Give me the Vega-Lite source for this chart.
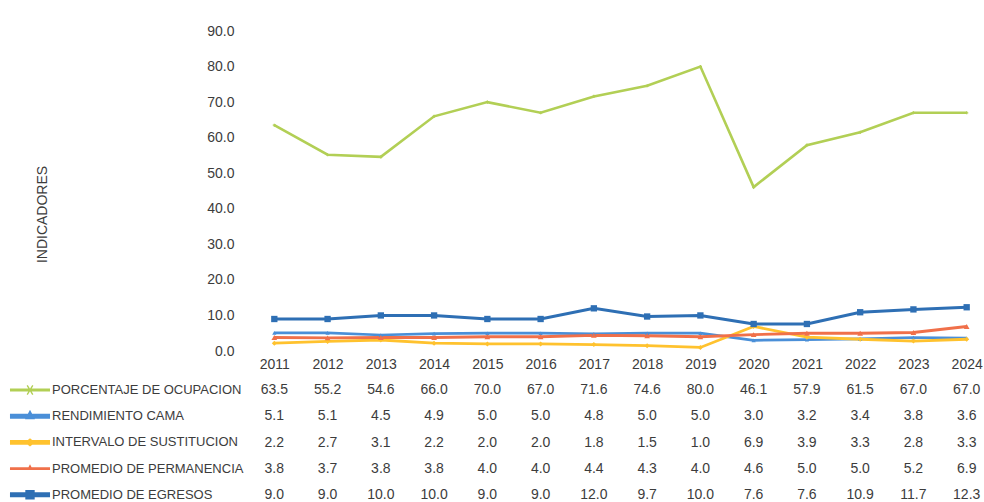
{
  "$schema": "https://vega.github.io/schema/vega-lite/v6.json",
  "background": "white",
  "padding": {"top": 24, "left": 17, "right": 0, "bottom": 0},
  "config": {
    "view": {"stroke": null},
    "font": "Liberation Sans",
    "concat": {"spacing": 6}
  },
  "resolve": {
    "scale": {"shape": "independent", "size": "independent", "strokeWidth": "independent"},
    "legend": {"color": "independent", "shape": "independent"}
  },
  "data": {
    "values": [
      {"anio": "2011", "serie": "PORCENTAJE DE OCUPACION", "valor": 63.5},
      {"anio": "2012", "serie": "PORCENTAJE DE OCUPACION", "valor": 55.2},
      {"anio": "2013", "serie": "PORCENTAJE DE OCUPACION", "valor": 54.6},
      {"anio": "2014", "serie": "PORCENTAJE DE OCUPACION", "valor": 66.0},
      {"anio": "2015", "serie": "PORCENTAJE DE OCUPACION", "valor": 70.0},
      {"anio": "2016", "serie": "PORCENTAJE DE OCUPACION", "valor": 67.0},
      {"anio": "2017", "serie": "PORCENTAJE DE OCUPACION", "valor": 71.6},
      {"anio": "2018", "serie": "PORCENTAJE DE OCUPACION", "valor": 74.6},
      {"anio": "2019", "serie": "PORCENTAJE DE OCUPACION", "valor": 80.0},
      {"anio": "2020", "serie": "PORCENTAJE DE OCUPACION", "valor": 46.1},
      {"anio": "2021", "serie": "PORCENTAJE DE OCUPACION", "valor": 57.9},
      {"anio": "2022", "serie": "PORCENTAJE DE OCUPACION", "valor": 61.5},
      {"anio": "2023", "serie": "PORCENTAJE DE OCUPACION", "valor": 67.0},
      {"anio": "2024", "serie": "PORCENTAJE DE OCUPACION", "valor": 67.0},
      {"anio": "2011", "serie": "RENDIMIENTO CAMA", "valor": 5.1},
      {"anio": "2012", "serie": "RENDIMIENTO CAMA", "valor": 5.1},
      {"anio": "2013", "serie": "RENDIMIENTO CAMA", "valor": 4.5},
      {"anio": "2014", "serie": "RENDIMIENTO CAMA", "valor": 4.9},
      {"anio": "2015", "serie": "RENDIMIENTO CAMA", "valor": 5.0},
      {"anio": "2016", "serie": "RENDIMIENTO CAMA", "valor": 5.0},
      {"anio": "2017", "serie": "RENDIMIENTO CAMA", "valor": 4.8},
      {"anio": "2018", "serie": "RENDIMIENTO CAMA", "valor": 5.0},
      {"anio": "2019", "serie": "RENDIMIENTO CAMA", "valor": 5.0},
      {"anio": "2020", "serie": "RENDIMIENTO CAMA", "valor": 3.0},
      {"anio": "2021", "serie": "RENDIMIENTO CAMA", "valor": 3.2},
      {"anio": "2022", "serie": "RENDIMIENTO CAMA", "valor": 3.4},
      {"anio": "2023", "serie": "RENDIMIENTO CAMA", "valor": 3.8},
      {"anio": "2024", "serie": "RENDIMIENTO CAMA", "valor": 3.6},
      {"anio": "2011", "serie": "INTERVALO DE SUSTITUCION", "valor": 2.2},
      {"anio": "2012", "serie": "INTERVALO DE SUSTITUCION", "valor": 2.7},
      {"anio": "2013", "serie": "INTERVALO DE SUSTITUCION", "valor": 3.1},
      {"anio": "2014", "serie": "INTERVALO DE SUSTITUCION", "valor": 2.2},
      {"anio": "2015", "serie": "INTERVALO DE SUSTITUCION", "valor": 2.0},
      {"anio": "2016", "serie": "INTERVALO DE SUSTITUCION", "valor": 2.0},
      {"anio": "2017", "serie": "INTERVALO DE SUSTITUCION", "valor": 1.8},
      {"anio": "2018", "serie": "INTERVALO DE SUSTITUCION", "valor": 1.5},
      {"anio": "2019", "serie": "INTERVALO DE SUSTITUCION", "valor": 1.0},
      {"anio": "2020", "serie": "INTERVALO DE SUSTITUCION", "valor": 6.9},
      {"anio": "2021", "serie": "INTERVALO DE SUSTITUCION", "valor": 3.9},
      {"anio": "2022", "serie": "INTERVALO DE SUSTITUCION", "valor": 3.3},
      {"anio": "2023", "serie": "INTERVALO DE SUSTITUCION", "valor": 2.8},
      {"anio": "2024", "serie": "INTERVALO DE SUSTITUCION", "valor": 3.3},
      {"anio": "2011", "serie": "PROMEDIO DE PERMANENCIA", "valor": 3.8},
      {"anio": "2012", "serie": "PROMEDIO DE PERMANENCIA", "valor": 3.7},
      {"anio": "2013", "serie": "PROMEDIO DE PERMANENCIA", "valor": 3.8},
      {"anio": "2014", "serie": "PROMEDIO DE PERMANENCIA", "valor": 3.8},
      {"anio": "2015", "serie": "PROMEDIO DE PERMANENCIA", "valor": 4.0},
      {"anio": "2016", "serie": "PROMEDIO DE PERMANENCIA", "valor": 4.0},
      {"anio": "2017", "serie": "PROMEDIO DE PERMANENCIA", "valor": 4.4},
      {"anio": "2018", "serie": "PROMEDIO DE PERMANENCIA", "valor": 4.3},
      {"anio": "2019", "serie": "PROMEDIO DE PERMANENCIA", "valor": 4.0},
      {"anio": "2020", "serie": "PROMEDIO DE PERMANENCIA", "valor": 4.6},
      {"anio": "2021", "serie": "PROMEDIO DE PERMANENCIA", "valor": 5.0},
      {"anio": "2022", "serie": "PROMEDIO DE PERMANENCIA", "valor": 5.0},
      {"anio": "2023", "serie": "PROMEDIO DE PERMANENCIA", "valor": 5.2},
      {"anio": "2024", "serie": "PROMEDIO DE PERMANENCIA", "valor": 6.9},
      {"anio": "2011", "serie": "PROMEDIO DE EGRESOS", "valor": 9.0},
      {"anio": "2012", "serie": "PROMEDIO DE EGRESOS", "valor": 9.0},
      {"anio": "2013", "serie": "PROMEDIO DE EGRESOS", "valor": 10.0},
      {"anio": "2014", "serie": "PROMEDIO DE EGRESOS", "valor": 10.0},
      {"anio": "2015", "serie": "PROMEDIO DE EGRESOS", "valor": 9.0},
      {"anio": "2016", "serie": "PROMEDIO DE EGRESOS", "valor": 9.0},
      {"anio": "2017", "serie": "PROMEDIO DE EGRESOS", "valor": 12.0},
      {"anio": "2018", "serie": "PROMEDIO DE EGRESOS", "valor": 9.7},
      {"anio": "2019", "serie": "PROMEDIO DE EGRESOS", "valor": 10.0},
      {"anio": "2020", "serie": "PROMEDIO DE EGRESOS", "valor": 7.6},
      {"anio": "2021", "serie": "PROMEDIO DE EGRESOS", "valor": 7.6},
      {"anio": "2022", "serie": "PROMEDIO DE EGRESOS", "valor": 10.9},
      {"anio": "2023", "serie": "PROMEDIO DE EGRESOS", "valor": 11.7},
      {"anio": "2024", "serie": "PROMEDIO DE EGRESOS", "valor": 12.3}
    ]
  },
  "vconcat": [
    {
      "width": 719,
      "height": 320,
      "encoding": {
        "x": {
          "field": "anio", "type": "ordinal",
          "scale": {"type": "point", "padding": 0.25},
          "axis": {"title": null, "labelAngle": 0, "domain": false, "ticks": false, "tickSize": 0,
                   "labelPadding": 6, "labelFontSize": 14, "labelColor": "#3c3c3c"}
        },
        "y": {
          "field": "valor", "type": "quantitative",
          "scale": {"domain": [0, 90], "nice": false},
          "axis": {"values": [0, 10, 20, 30, 40, 50, 60, 70, 80, 90], "format": ".1f", "grid": false,
                   "domain": false, "ticks": false, "tickSize": 0, "labelPadding": 27,
                   "labelFontSize": 14, "labelColor": "#3c3c3c",
                   "title": "INDICADORES", "titleFontSize": 14, "titleFontWeight": "normal",
                   "titleColor": "#3c3c3c", "titlePadding": 157, "titleY": 183}
        },
        "color": {
          "field": "serie", "type": "nominal",
          "scale": {
            "domain": ["PORCENTAJE DE OCUPACION", "RENDIMIENTO CAMA", "INTERVALO DE SUSTITUCION", "PROMEDIO DE PERMANENCIA", "PROMEDIO DE EGRESOS"],
            "range": ["#B2CF55", "#4A8FD8", "#FFC22E", "#F0704A", "#2E6FB4"]
          },
          "legend": null
        }
      },
      "layer": [
        {
          "mark": {"type": "line"},
          "encoding": {
            "strokeWidth": {
              "field": "serie", "type": "nominal",
              "scale": {
                "domain": ["PORCENTAJE DE OCUPACION", "RENDIMIENTO CAMA", "INTERVALO DE SUSTITUCION", "PROMEDIO DE PERMANENCIA", "PROMEDIO DE EGRESOS"],
                "range": [2.6, 3, 3, 3, 3.8]
              },
              "legend": null
            }
          }
        },
        {
          "mark": {"type": "point", "filled": true, "opacity": 1},
          "encoding": {
            "shape": {
              "field": "serie", "type": "nominal",
              "scale": {
                "domain": ["PORCENTAJE DE OCUPACION", "RENDIMIENTO CAMA", "INTERVALO DE SUSTITUCION", "PROMEDIO DE PERMANENCIA", "PROMEDIO DE EGRESOS"],
                "range": ["cross", "triangle-up", "diamond", "triangle-up", "square"]
              },
              "legend": null
            },
            "size": {
              "field": "serie", "type": "nominal",
              "scale": {
                "domain": ["PORCENTAJE DE OCUPACION", "RENDIMIENTO CAMA", "INTERVALO DE SUSTITUCION", "PROMEDIO DE PERMANENCIA", "PROMEDIO DE EGRESOS"],
                "range": [10, 40, 50, 25, 150]
              },
              "legend": null
            }
          }
        }
      ]
    },
    {
      "width": 719,
      "height": 131,
      "encoding": {
        "x": {
          "field": "anio", "type": "ordinal",
          "scale": {"type": "point", "padding": 0.25},
          "axis": null
        },
        "y": {
          "field": "serie", "type": "nominal",
          "sort": ["PORCENTAJE DE OCUPACION", "RENDIMIENTO CAMA", "INTERVALO DE SUSTITUCION", "PROMEDIO DE PERMANENCIA", "PROMEDIO DE EGRESOS"],
          "scale": {"type": "band", "paddingInner": 0, "paddingOuter": 0},
          "axis": null
        }
      },
      "layer": [
        {
          "mark": {"type": "text", "fontSize": 14, "color": "#3c3c3c", "baseline": "middle"},
          "encoding": {
            "text": {"field": "valor", "type": "quantitative", "format": ".1f"}
          }
        },
        {
          "mark": {"type": "point", "filled": true, "opacity": 0},
          "encoding": {
            "color": {
              "field": "serie", "type": "nominal",
              "scale": {
                "domain": ["PORCENTAJE DE OCUPACION", "RENDIMIENTO CAMA", "INTERVALO DE SUSTITUCION", "PROMEDIO DE PERMANENCIA", "PROMEDIO DE EGRESOS"],
                "range": ["#B2CF55", "#4A8FD8", "#FFC22E", "#F0704A", "#2E6FB4"]
              },
              "legend": {
                "orient": "left", "title": null, "offset": 17, "symbolSize": 676, "symbolOpacity": 1,
                "symbolStrokeWidth": 0, "labelFontSize": 13, "labelColor": "#3c3c3c", "labelOffset": 9,
                "rowPadding": 6.2, "padding": 0, "labelLimit": 300,
                "encode": {"symbols": {"update": {"opacity": {"value": 1}, "fillOpacity": {"value": 1}}}}
              }
            },
            "shape": {
              "field": "serie", "type": "nominal",
              "scale": {
                "domain": ["PORCENTAJE DE OCUPACION", "RENDIMIENTO CAMA", "INTERVALO DE SUSTITUCION", "PROMEDIO DE PERMANENCIA", "PROMEDIO DE EGRESOS"],
                "range": [
                  "M-1.54,-0.11H1.54V0.11H-1.54Z M-0.26,-0.33L-0.17,-0.38L0.26,0.33L0.17,0.38Z M0.17,-0.38L0.26,-0.33L-0.17,0.38L-0.26,0.33Z",
                  "M-1.54,-0.19H1.54V0.19H-1.54Z M0,-0.5L0.38,0.23L-0.38,0.23Z",
                  "M-1.54,-0.19H1.54V0.19H-1.54Z M0,-0.32L0.4,0L0,0.32L-0.4,0Z",
                  "M-1.54,-0.11H1.54V0.11H-1.54Z M0,-0.33L0.23,0.11L-0.23,0.11Z",
                  "M-1.54,-0.19H1.54V0.19H-1.54Z M-0.36,-0.36H0.36V0.36H-0.36Z"
                ]
              },
              "legend": {
                "orient": "left", "title": null, "offset": 17, "symbolSize": 676, "symbolOpacity": 1,
                "symbolStrokeWidth": 0, "labelFontSize": 13, "labelColor": "#3c3c3c", "labelOffset": 9,
                "rowPadding": 6.2, "padding": 0, "labelLimit": 300,
                "encode": {"symbols": {"update": {"opacity": {"value": 1}, "fillOpacity": {"value": 1}}}}
              }
            }
          }
        }
      ]
    }
  ]
}
